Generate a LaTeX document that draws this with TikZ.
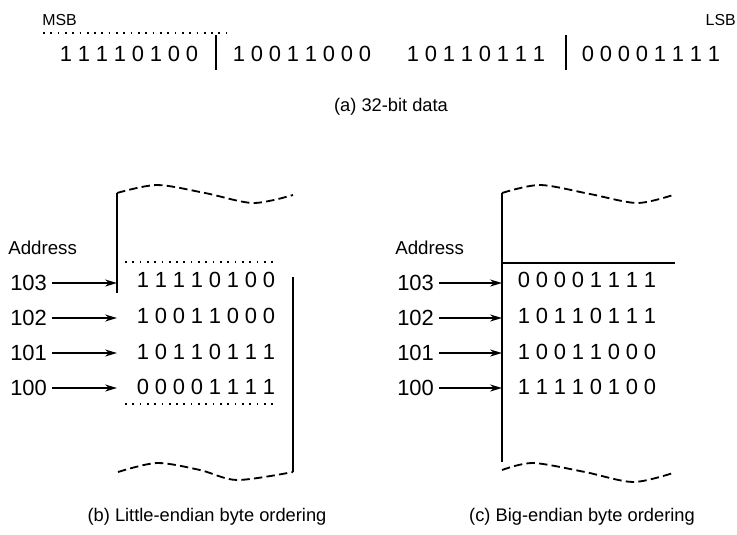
\documentclass[tikz,border=0pt]{standalone}
\usepackage{fontspec}
\setmainfont{Liberation Sans}
\usetikzlibrary{arrows.meta}

% one byte, digit by digit: name, x centre, y, digits
\newcommand{\bytecells}[4]{%
  \foreach \d [count=\k] in {#4}
    \node[bit] (#1-\k) at ({#2+(\k-4.5)*18},#3) {\d};}

\begin{document}
\begin{tikzpicture}[x=0.025cm, y=-0.025cm,
    bit/.style={inner sep=0pt, font=\fontsize{15.6}{18}\selectfont},
    addr/.style={inner sep=0pt, anchor=west, font=\fontsize{15.6}{18}\selectfont},
    head/.style={inner sep=0pt, anchor=west, font=\fontsize{13.3}{16}\selectfont},
    tag/.style={inner sep=0pt, font=\fontsize{11.3}{13}\selectfont},
    caption/.style={inner sep=0pt, font=\fontsize{13}{16}\selectfont},
    bar/.style={line width=1.5pt},
    memline/.style={line width=1.5pt},
    wave/.style={line width=1.3pt, dash pattern=on 6pt off 3pt},
    faint/.style={line width=0.9pt, dash pattern=on 1.2pt off 4pt},
    ptr/.style={-{Stealth[length=8.5pt,width=5pt]}, line width=1.2pt, shorten <=3.5pt},
]
\useasboundingbox (0,0) rectangle (737,534);

% (a) 32-bit data word
\node[tag, anchor=west] (msb) at (42,20) {MSB};
\node[tag, anchor=east] (lsb) at (736,20) {LSB};
\coordinate (rule-l) at (43,33);
\coordinate (rule-r) at (228,33);
\draw[faint] (rule-l) -- (rule-r);
\bytecells{w1}{129}{54}{1,1,1,1,0,1,0,0}
\bytecells{w2}{302}{54}{1,0,0,1,1,0,0,0}
\bytecells{w3}{476}{54}{1,0,1,1,0,1,1,1}
\bytecells{w4}{651}{54}{0,0,0,0,1,1,1,1}
\coordinate (bar1-t) at (216,35);
\coordinate (bar1-b) at (216,70);
\coordinate (bar3-t) at (566,35);
\coordinate (bar3-b) at (566,70);
\draw[bar] (bar1-t) -- (bar1-b);
\draw[bar] (bar3-t) -- (bar3-b);
\node[caption] (capa) at (391,107) {(a) 32-bit data};

% (b) little-endian memory
\node[head] (le-head) at (8,248) {Address};
\node[addr] (le103) at (10,283) {103};
\node[addr] (le102) at (10,318) {102};
\node[addr] (le101) at (10,353) {101};
\node[addr] (le100) at (10,388) {100};
\bytecells{lb103}{206}{280}{1,1,1,1,0,1,0,0}
\bytecells{lb102}{206}{316}{1,0,0,1,1,0,0,0}
\bytecells{lb101}{206}{352}{1,0,1,1,0,1,1,1}
\bytecells{lb100}{206}{387}{0,0,0,0,1,1,1,1}
\coordinate (le-in103) at (117,283);
\coordinate (le-in102) at (117,318);
\coordinate (le-in101) at (117,353);
\coordinate (le-in100) at (117,388);
\draw[ptr] (le103) -- (le-in103);
\draw[ptr] (le102) -- (le-in102);
\draw[ptr] (le101) -- (le-in101);
\draw[ptr] (le100) -- (le-in100);
\draw[memline] (117,193) -- (117,293);
\draw[memline] (293,277) -- (293,472);
\draw[faint] (125,262) -- (275,262);
\draw[faint] (125,404) -- (278,404);
\draw[wave] plot[smooth] coordinates {(117,193) (157,185) (205,193) (253,203) (293,195)};
\draw[wave] plot[smooth] coordinates {(118,472) (157,463) (200,470) (237,480) (293,472)};
\node[caption] (capb) at (207,517) {(b) Little-endian byte ordering};

% (c) big-endian memory
\node[head] (be-head) at (395,248) {Address};
\node[addr] (be103) at (397,283) {103};
\node[addr] (be102) at (397,318) {102};
\node[addr] (be101) at (397,353) {101};
\node[addr] (be100) at (397,388) {100};
\bytecells{bb103}{587}{280}{0,0,0,0,1,1,1,1}
\bytecells{bb102}{587}{316}{1,0,1,1,0,1,1,1}
\bytecells{bb101}{587}{352}{1,0,0,1,1,0,0,0}
\bytecells{bb100}{587}{387}{1,1,1,1,0,1,0,0}
\coordinate (be-in103) at (502,283);
\coordinate (be-in102) at (502,318);
\coordinate (be-in101) at (502,353);
\coordinate (be-in100) at (502,388);
\draw[ptr] (be103) -- (be-in103);
\draw[ptr] (be102) -- (be-in102);
\draw[ptr] (be101) -- (be-in101);
\draw[ptr] (be100) -- (be-in100);
\draw[memline] (502,193) -- (502,462);
\draw[memline] (502,263) -- (675,263);
\draw[wave] plot[smooth] coordinates {(502,193) (540,185) (590,194) (637,203) (673,195)};
\draw[wave] plot[smooth] coordinates {(502,470) (533,463) (585,472) (633,482) (673,473)};
\node[caption] (capc) at (582,517) {(c) Big-endian byte ordering};

\end{tikzpicture}
\end{document}
